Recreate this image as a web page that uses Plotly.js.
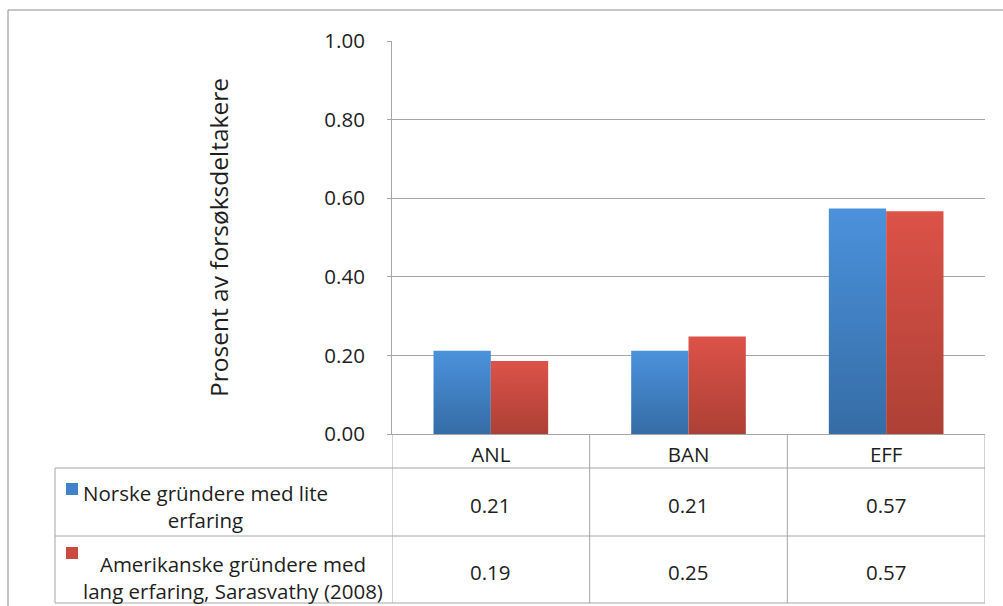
<!DOCTYPE html>
<html>
<head>
<meta charset="utf-8">
<script src="https://cdn.plot.ly/plotly-3.0.1.min.js"></script>
<style>
  html, body { margin: 0; padding: 0; background: #ffffff; }
  #chart { width: 1003px; height: 606px; }
</style>
</head>
<body>
<div id="chart"></div>
<script>
// Share of participants per decision logic
const categories = ['ANL', 'BAN', 'EFF'];
const seriesNames = [
  'Norske gründere med lite<br>erfaring',
  'Amerikanske gründere med<br>lang erfaring, Sarasvathy (2008)'
];
const norskeValues = [0.212, 0.212, 0.574];
const amerikanskeValues = [0.186, 0.248, 0.567];
const yTickValues = [0, 0.2, 0.4, 0.6, 0.8, 1.0];
const yTitle = 'Prosent av forsøksdeltakere';

const FONT = '"Open Sans", Lato, sans-serif';
const SIZE = 20.5;
const TEXT = '#1e1e1e';
const LINE = '#a6a6a6';

// plot area in pixels
const L = 392, R = 985, T = 41, B = 434;
const W = R - L, H = B - T;
const px = x => (x - L) / W;
const py = y => (B - y) / H;

// table rows (pixels)
const row1Top = 468, row2Top = 536, tableBottom = 603, labelColLeft = 55;

const traces = [
  { type: 'bar', name: 'Norske', x: categories, y: norskeValues,
    marker: { color: '#4282c8', line: { width: 0 } }, hoverinfo: 'skip' },
  { type: 'bar', name: 'Amerikanske', x: categories, y: amerikanskeValues,
    marker: { color: '#c94b40', line: { width: 0 } }, hoverinfo: 'skip' }
];

const shapes = [];
const line = (x0, y0, x1, y1, xref, yref, color, w) => shapes.push({
  type: 'line', xref: xref || 'paper', yref: yref || 'paper',
  x0, y0, x1, y1, line: { color: color || LINE, width: w || 1 }
});

// outer chart border
shapes.push({ type: 'rect', xref: 'paper', yref: 'paper',
  x0: px(8), x1: px(1010), y0: py(10), y1: py(612),
  line: { color: '#8c8c8c', width: 1 }, fillcolor: 'rgba(0,0,0,0)' });

// data table grid
line(px(labelColLeft), py(row1Top), 1, py(row1Top));
line(px(labelColLeft), py(row2Top), 1, py(row2Top));
line(px(labelColLeft), py(tableBottom), 1, py(tableBottom));
line(px(labelColLeft), py(row1Top), px(labelColLeft), py(tableBottom));
[-0.5, 0.5, 1.5, 2.5].forEach(c => line(c, 0, c, py(tableBottom), 'x', 'paper'));

// legend keys in the table
const key = (x, y, color) => shapes.push({ type: 'rect', xref: 'paper', yref: 'paper',
  x0: px(x), x1: px(x + 12), y0: py(y), y1: py(y + 12), line: { width: 0 }, fillcolor: color });
key(66, 483, '#4282c8');
key(66, 547, '#c94b40');

const annotations = [];
const ann = (o) => annotations.push(Object.assign({
  showarrow: false, font: { family: FONT, size: SIZE, color: TEXT }
}, o));

// series labels
ann({ xref: 'paper', yref: 'paper', x: px(205), y: py(506), text: seriesNames[0],
  align: 'center', xanchor: 'center', yanchor: 'middle' });
ann({ xref: 'paper', yref: 'paper', x: px(233), y: py(577), text: seriesNames[1],
  align: 'center', xanchor: 'center', yanchor: 'middle' });

// table values
categories.forEach((c, i) => {
  ann({ xref: 'x', yref: 'paper', x: c, y: py(505), text: norskeValues[i].toFixed(2),
    xanchor: 'center', yanchor: 'middle' });
  ann({ xref: 'x', yref: 'paper', x: c, y: py(572), text: amerikanskeValues[i].toFixed(2),
    xanchor: 'center', yanchor: 'middle' });
});

const layout = {
  width: 1003, height: 606,
  margin: { l: L, r: 1003 - R, t: T, b: 606 - B, pad: 0 },
  paper_bgcolor: '#ffffff', plot_bgcolor: '#ffffff',
  showlegend: false,
  barmode: 'group', bargap: 0.42, bargroupgap: 0,
  font: { family: FONT, size: SIZE, color: TEXT },
  xaxis: {
    type: 'category', range: [-0.5, 2.5], fixedrange: true,
    showline: true, linecolor: LINE, linewidth: 1,
    ticks: '', showgrid: false, zeroline: false,
    tickfont: { family: FONT, size: SIZE, color: TEXT },
    ticklabelstandoff: 2
  },
  yaxis: {
    range: [0, 1], tickvals: yTickValues, tickformat: '.2f', fixedrange: true,
    showline: true, linecolor: LINE, linewidth: 1,
    ticks: 'outside', ticklen: 4, tickcolor: LINE,
    showgrid: true, gridcolor: LINE, gridwidth: 1, zeroline: false,
    tickfont: { family: FONT, size: SIZE, color: TEXT },
    ticklabelstandoff: 18,
    title: { text: yTitle, font: { family: FONT, size: 24.5, color: TEXT }, standoff: 88 }
  },
  shapes, annotations
};

const gd = document.getElementById('chart');
Plotly.newPlot(gd, traces, layout, { staticPlot: true, displayModeBar: false }).then(() => {
  // vertical shading on the bars
  const svg = gd.querySelector('.main-svg');
  const ns = 'http://www.w3.org/2000/svg';
  let defs = svg.querySelector('defs');
  if (!defs) { defs = document.createElementNS(ns, 'defs'); svg.insertBefore(defs, svg.firstChild); }
  const grads = [
    { id: 'barShadeBlue', top: '#4b92dc', bottom: '#356ca5' },
    { id: 'barShadeRed', top: '#dc5248', bottom: '#ad4035' }
  ];
  grads.forEach(g => {
    const lg = document.createElementNS(ns, 'linearGradient');
    lg.setAttribute('id', g.id);
    lg.setAttribute('x1', '0'); lg.setAttribute('y1', '0');
    lg.setAttribute('x2', '0'); lg.setAttribute('y2', '1');
    [[0, g.top], [1, g.bottom]].forEach(([o, c]) => {
      const s = document.createElementNS(ns, 'stop');
      s.setAttribute('offset', o); s.setAttribute('stop-color', c);
      lg.appendChild(s);
    });
    defs.appendChild(lg);
  });
  gd.querySelectorAll('.trace.bars').forEach((tr, i) => {
    tr.querySelectorAll('.point path').forEach(p => { p.style.fill = 'url(#' + grads[i].id + ')'; });
  });
});
</script>
</body>
</html>
